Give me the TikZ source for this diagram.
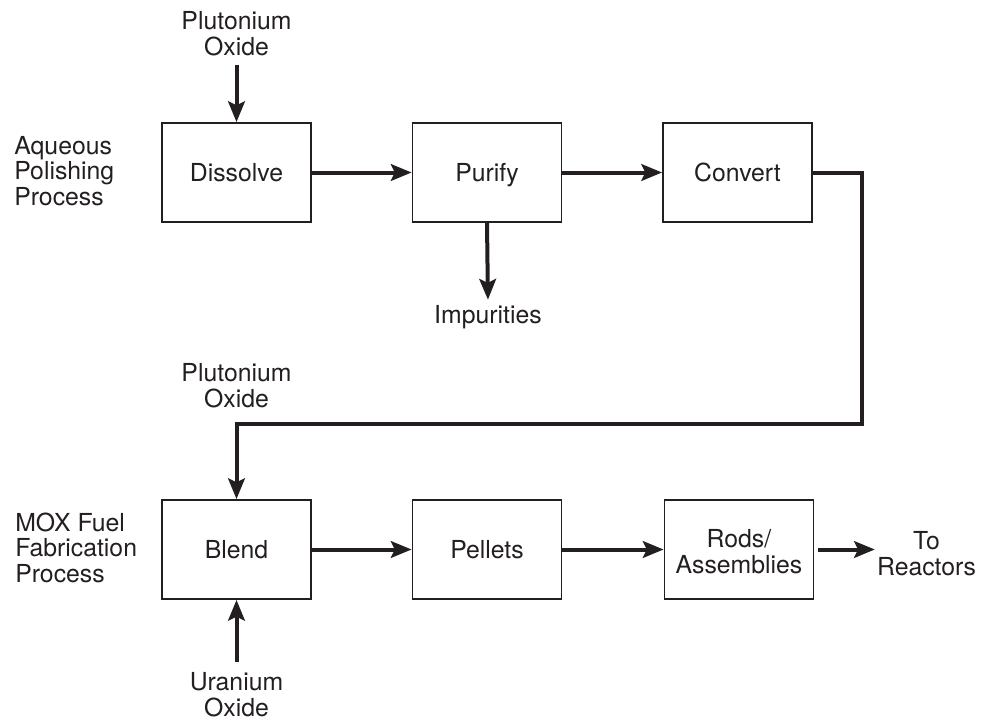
\documentclass[tikz,border=0pt]{standalone}
\usepackage{fontspec}
\setmainfont{TeX Gyre Heros}
\usetikzlibrary{arrows.meta}
\definecolor{ink}{RGB}{35,31,32}
\begin{document}
\begin{tikzpicture}[x=0.75pt,y=-0.75pt,
  every node/.style={font=\fontsize{18.6}{18.9}\selectfont, text=ink},
  box/.style={draw=ink, line width=1.4pt, minimum width=111.75pt, minimum height=74.25pt,
    inner sep=0pt, text height=13.3pt, text depth=0pt},
  lbl/.style={align=center, inner sep=0pt},
  side/.style={align=left, inner sep=0pt, anchor=base west},
  arr/.style={draw=ink, line width=3pt, line join=miter,
    -{Stealth[length=15.5pt,width=12.5pt,inset=3pt]}},
]
\useasboundingbox (0,0) rectangle (982,721);

% upper process
\node[side] (aq) at (14,205) {Aqueous\\Polishing\\Process};
\node[lbl, anchor=base] (pu1) at (236.5,55) {Plutonium\\Oxide};
\node[box] (dissolve) at (236.5,172.5) {Dissolve};
\node[box] (purify) at (487,172.5) {Purify};
\node[box] (convert) at (737.5,172.5) {Convert};
\node[lbl, anchor=base] (imp) at (488,323) {Impurities};

% lower process
\node[lbl, anchor=base] (pu2) at (236.5,407) {Plutonium\\Oxide};
\node[side] (mox) at (15,582) {MOX Fuel\\Fabrication\\Process};
\node[box] (blend) at (236.5,549.5) {Blend};
\node[box] (pellets) at (487,549.5) {Pellets};
\node[box, align=center, text height=35.3pt, text depth=0pt] (rods) at (739,549.5) {Rods/\\Assemblies};
\node[lbl, anchor=base] (toreac) at (926.5,575) {To\\Reactors};
\node[lbl, anchor=base] (ur) at (236.5,716) {Uranium\\Oxide};

\coordinate (bend) at (862,424);

% connectors
\draw[arr, shorten <=6.75pt] (pu1.south) -- (dissolve.north);
\draw[arr] (dissolve.east) -- (purify.west);
\draw[arr] (purify.east) -- (convert.west);
\draw[arr, shorten >=3.75pt] (purify.south) -- (imp.north);
\draw[arr] (convert.east) -| (bend) -| (blend.north);
\draw[arr] (blend.east) -- (pellets.west);
\draw[arr] (pellets.east) -- (rods.west);
\draw[arr, shorten <=3pt, shorten >=1.5pt] (rods.east) -- (rods.east -| toreac.west);
\draw[arr, shorten <=8pt] (ur.north) -- (blend.south);
\end{tikzpicture}
\end{document}
